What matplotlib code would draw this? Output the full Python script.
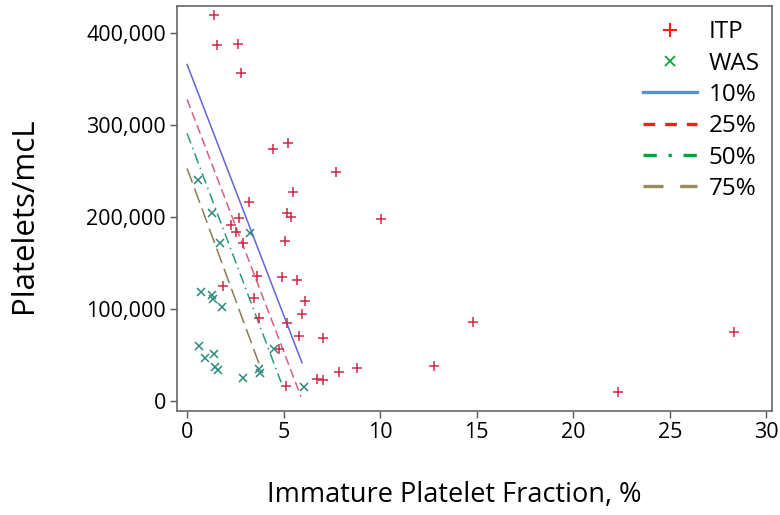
import matplotlib
matplotlib.use("Agg")
import matplotlib.pyplot as plt
from matplotlib.lines import Line2D
from matplotlib.ticker import FuncFormatter

plt.rcParams['font.family'] = ['Open Sans', 'DejaVu Sans']

# ITP patients (immature platelet fraction %, platelets/mcL)
itp_ipf = [1.41, 1.57, 2.64, 2.81, 4.44, 5.23, 7.72, 5.48, 10.02, 3.21,
           5.20, 5.37, 2.71, 2.26, 2.54, 2.92, 5.08, 3.61, 4.90, 5.68,
           1.84, 6.11, 3.47, 5.94, 3.75, 5.17, 5.82, 7.03, 4.78, 5.13,
           6.71, 7.03, 7.86, 8.82, 12.80, 14.80, 22.30, 28.34]
itp_plt = [419600, 387000, 388400, 356900, 274300, 280100, 248900, 226900, 198200, 216300,
           204700, 200300, 199200, 191300, 184000, 171400, 173900, 136400, 135300, 131500,
           124700, 108200, 111600, 94200, 90500, 84800, 70700, 68800, 56500, 16300,
           23700, 22300, 31200, 35500, 38400, 85500, 9800, 75000]

# WAS patients
was_ipf = [0.59, 1.31, 1.71, 3.26, 0.73, 1.28, 1.36, 1.83, 0.64, 0.93,
           1.41, 1.45, 1.62, 2.89, 3.73, 3.78, 4.51, 6.06]
was_plt = [240200, 204700, 172000, 183000, 118800, 115200, 110500, 101800, 59800, 46400,
           50800, 37300, 33700, 24700, 34800, 30100, 56500, 14900]

# quantile lines (start at IPF 0, end at given IPF)
quant_labels = ['10%', '25%', '50%', '75%']
quant_y_start = [366000, 328000, 291000, 253000]
quant_x_end = [5.95, 5.90, 4.87, 3.82]
quant_y_end = [41600, 4700, 20300, 35100]
quant_colors = ['#6464dc', '#d8607a', '#2a9a7e', '#8c7a58']
quant_styles = ['-', (0, (6, 3)), (0, (7, 3, 1, 3)), (0, (10, 4))]
legend_colors = ['#5b8fd6', '#ff1a1a', '#10a040', '#9a8c5c']
legend_styles = ['-', (0, (3.5, 3)), (0, (4, 3.5, 1, 3.5)), (0, (6, 5))]

fig = plt.figure(figsize=(7.8, 5.15), dpi=100)
ax = fig.add_axes([0.227, 0.202, 0.763, 0.786])

for i in range(len(quant_labels)):
    ax.plot([0, quant_x_end[i]], [quant_y_start[i], quant_y_end[i]],
            color=quant_colors[i], linestyle=quant_styles[i], linewidth=1.1)

ax.plot(itp_ipf, itp_plt, linestyle='none', marker='+', color='#d02848',
        markersize=7, markeredgewidth=1.1)
ax.plot(was_ipf, was_plt, linestyle='none', marker='x', color='#2a8a7c',
        markersize=5.5, markeredgewidth=1.1)

ax.set_xlim(-0.52, 30.31)
ax.set_ylim(-10900, 429400)
ax.set_xticks([0, 5, 10, 15, 20, 25, 30])
ax.set_yticks([0, 100000, 200000, 300000, 400000])
ax.yaxis.set_major_formatter(FuncFormatter(lambda v, p: f"{int(v):,}"))
ax.tick_params(labelsize=15.5, length=5, width=1, color='#555555', pad=3)
for sp in ax.spines.values():
    sp.set_color('#666666')
    sp.set_linewidth(1.2)

ax.set_xlabel('Immature Platelet Fraction, %', fontsize=19.5)
ax.xaxis.set_label_coords(0.466, -0.172)
ax.set_ylabel('Platelets/mcL', fontsize=22.5)
ax.yaxis.set_label_coords(-0.232, 0.484)

handles = [Line2D([], [], linestyle='none', marker='+', color='#ff1a1a', markersize=10, markeredgewidth=1.5),
           Line2D([], [], linestyle='none', marker='x', color='#10a040', markersize=7, markeredgewidth=1.3)]
for i in range(len(quant_labels)):
    handles.append(Line2D([], [], color=legend_colors[i], linestyle=legend_styles[i], linewidth=2.4))
ax.legend(handles, ['ITP', 'WAS'] + quant_labels, loc='upper left', frameon=False,
          fontsize=17.5, handlelength=2.2, handletextpad=0.5, labelspacing=0.3,
          borderpad=0, borderaxespad=0, bbox_to_anchor=(0.783, 0.965))

fig.savefig('out.png', dpi=100)
